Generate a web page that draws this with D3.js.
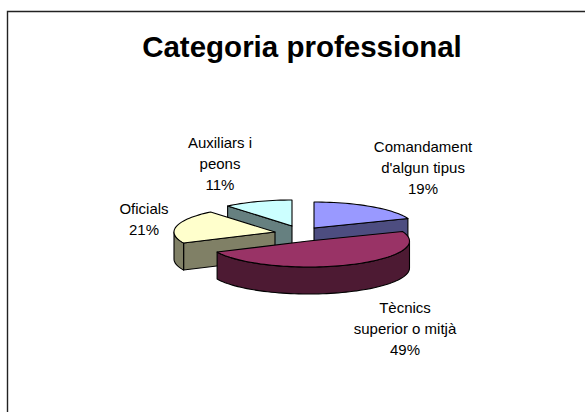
<!DOCTYPE html>
<html>
<head>
<meta charset="utf-8">
<script src="https://cdn.jsdelivr.net/npm/d3@7"></script>
<style>
  html, body { margin: 0; background: #fff; }
  svg { display: block; }
  text { font-family: "Liberation Sans", Arial, sans-serif; fill: #000; }
</style>
</head>
<body>
<script>
  // Chart data, clockwise from 12 o'clock
  const categories = [
    ['Comandament', "d'algun tipus"],
    ['Tècnics', 'superior o mitjà'],
    ['Oficials'],
    ['Auxiliars i', 'peons']
  ];
  const shares = [19, 49, 21, 11];
  const chartTitle = 'Categoria professional';

  // Colors per slice: top face and side wall
  const TOP_COLORS = ['#9999ff', '#993366', '#ffffcc', '#ccffff'];
  const WALL_COLORS = ['#4d4d80', '#4d1a33', '#808066', '#668080'];

  // Exploded slice centres and label anchors
  const SLICE_CENTERS = [[314, 228], [308.5, 241], [275, 232], [292, 226]];
  const LABEL_ANCHORS = [[423, 152], [405, 313], [144, 214], [220, 148]];

  const width = 585, height = 412;
  const RX = 101, RY = 26, DEPTH = 27;
  const LINE_HEIGHT = 21;

  const svg = d3.select('body').append('svg')
    .attr('width', width)
    .attr('height', height);

  // Frame runs off the right and bottom of the page
  svg.append('path')
    .attr('d', `M${width + 2},11.5H7.5V${height + 2}`)
    .attr('fill', 'none')
    .attr('stroke', '#222')
    .attr('stroke-width', 1.4);

  svg.append('text')
    .attr('x', 302)
    .attr('y', 57)
    .attr('text-anchor', 'middle')
    .attr('font-size', '29.5px')
    .attr('font-weight', 'bold')
    .text(chartTitle);

  const arcs = d3.pie().sort(null).value(d => d)(shares)
    .map((a, i) => ({ ...a, i, cx: SLICE_CENTERS[i][0], cy: SLICE_CENTERS[i][1] }));

  // Projection of the tilted disc, angle clockwise from 12 o'clock
  const project = (d, t, drop = 0) => [
    d.cx + RX * Math.sin(t),
    d.cy - RY * Math.cos(t) + drop
  ];

  function rimPoints(d, t0, t1, drop) {
    const n = Math.max(2, Math.ceil((t1 - t0) / 0.04));
    return d3.range(n + 1).map(k => project(d, t0 + (t1 - t0) * k / n, drop));
  }

  const line = d3.line();

  // Painter's order: slices pointing to the back go first
  const ordered = arcs.slice().sort((a, b) =>
    d3.descending(Math.cos((a.startAngle + a.endAngle) / 2), Math.cos((b.startAngle + b.endAngle) / 2)));

  const sliceG = svg.selectAll('g.slice')
    .data(ordered)
    .join('g')
    .attr('class', 'slice')
    .attr('stroke', '#000')
    .attr('stroke-width', 1.1)
    .attr('stroke-linejoin', 'round');

  sliceG.each(function (d) {
    const g = d3.select(this);
    const wall = WALL_COLORS[d.i];

    // Radial cut faces that look toward the viewer
    [[d.startAngle, Math.sin(d.startAngle) < -1e-6], [d.endAngle, Math.sin(d.endAngle) > 1e-6]]
      .filter(e => e[1])
      .forEach(e => {
        const p = project(d, e[0]);
        g.append('path')
          .attr('fill', wall)
          .attr('d', line([[d.cx, d.cy], p, [p[0], p[1] + DEPTH], [d.cx, d.cy + DEPTH]]) + 'Z');
      });

    // Outer rim, only the front half of the disc is visible
    const t0 = Math.max(d.startAngle, Math.PI / 2);
    const t1 = Math.min(d.endAngle, Math.PI * 1.5);
    if (t1 > t0) {
      const upper = rimPoints(d, t0, t1, 0);
      const lower = rimPoints(d, t0, t1, DEPTH).reverse();
      g.append('path')
        .attr('fill', wall)
        .attr('d', line(upper.concat(lower)) + 'Z');
    }

    g.append('path')
      .attr('fill', TOP_COLORS[d.i])
      .attr('d', line([[d.cx, d.cy]].concat(rimPoints(d, d.startAngle, d.endAngle, 0))) + 'Z');
  });

  // Labels: category lines, then the share
  const labels = svg.selectAll('text.label')
    .data(arcs)
    .join('text')
    .attr('class', 'label')
    .attr('text-anchor', 'middle')
    .attr('font-size', '15px')
    .attr('transform', d => `translate(${LABEL_ANCHORS[d.i][0]},${LABEL_ANCHORS[d.i][1]})`);

  labels.selectAll('tspan')
    .data(d => categories[d.i].concat(shares[d.i] + '%'))
    .join('tspan')
    .attr('x', 0)
    .attr('y', (d, k) => k * LINE_HEIGHT)
    .text(d => d);
</script>
</body>
</html>
